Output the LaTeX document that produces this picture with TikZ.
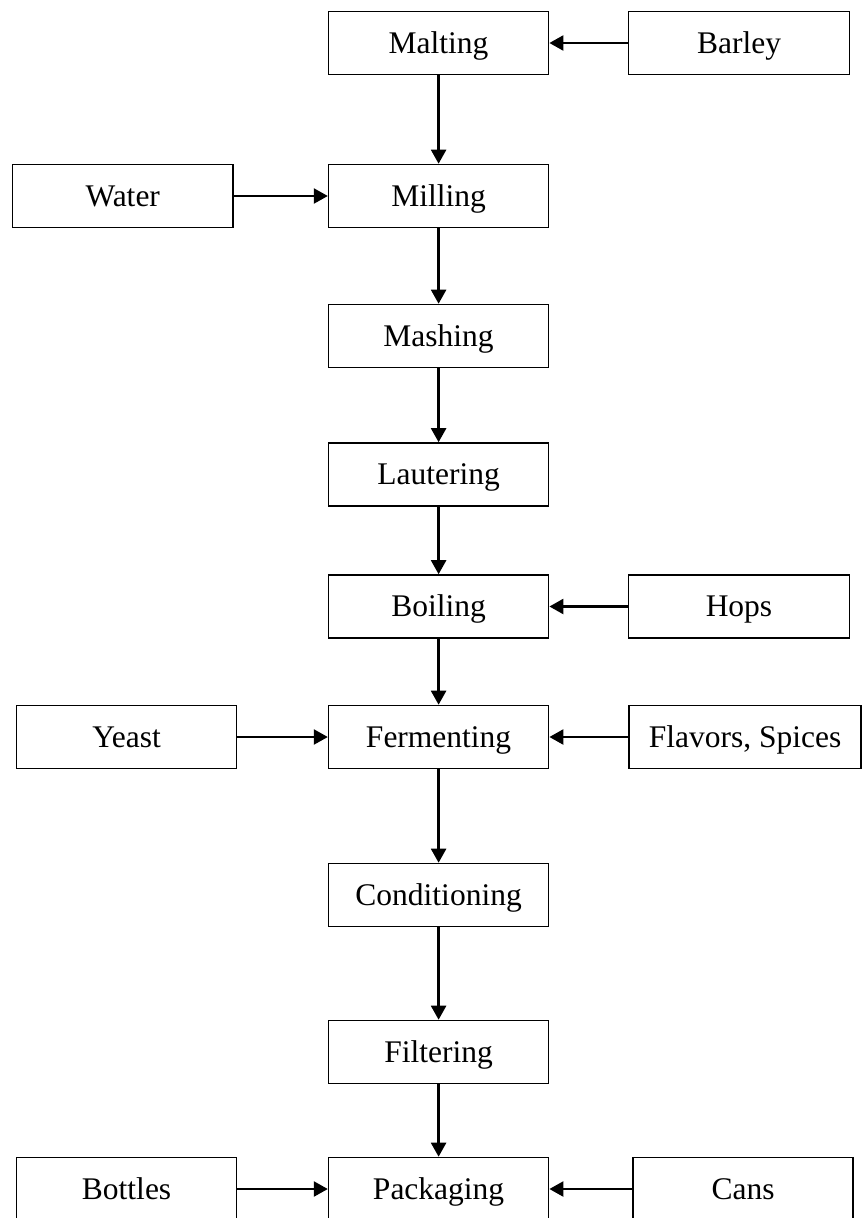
\documentclass[tikz,border=0pt]{standalone}
\usepackage{fontspec}
\setmainfont{Liberation Serif}
\usetikzlibrary{arrows.meta}
\tikzset{
  stage/.style={draw=black, line width=1.6pt, minimum width=220pt, minimum height=63pt, inner sep=0pt, text height=20.9pt, text depth=0pt, font=\fontsize{31.5}{38}\selectfont},
  flow/.style={line width=2.4pt, -{Triangle[length=14pt,width=15pt]}}
}
\begin{document}
\begin{tikzpicture}[x=1pt,y=-1pt]
\useasboundingbox (0,0) rectangle (863,1218);
\fill[white] (0,0) rectangle (863,1218);
\node[stage] (malting) at (438.6,43) {Malting};
\node[stage, minimum width=221pt] (barley) at (739,43) {Barley};
\node[stage, minimum width=220.5pt] (water) at (122.75,196) {Water};
\node[stage] (milling) at (438.6,196) {Milling};
\node[stage] (mashing) at (438.6,336) {Mashing};
\node[stage] (lautering) at (438.6,474.5) {Lautering};
\node[stage] (boiling) at (438.6,606.5) {Boiling};
\node[stage, minimum width=221pt] (hops) at (739,606.5) {Hops};
\node[stage] (yeast) at (126.6,737) {Yeast};
\node[stage] (fermenting) at (438.6,737) {Fermenting};
\node[stage, minimum width=232pt] (flavors) at (745,737) {Flavors, Spices};
\node[stage] (conditioning) at (438.6,895) {Conditioning};
\node[stage] (filtering) at (438.6,1052) {Filtering};
\node[stage] (bottles) at (126.6,1189) {Bottles};
\node[stage] (packaging) at (438.6,1189) {Packaging};
\node[stage] (cans) at (743,1189) {Cans};
\draw[flow] (barley) -- (malting);
\draw[flow] (malting) -- (milling);
\draw[flow] (water) -- (milling);
\draw[flow] (milling) -- (mashing);
\draw[flow] (mashing) -- (lautering);
\draw[flow] (lautering) -- (boiling);
\draw[flow] (hops) -- (boiling);
\draw[flow] (boiling) -- (fermenting);
\draw[flow] (yeast) -- (fermenting);
\draw[flow] (flavors) -- (fermenting);
\draw[flow] (fermenting) -- (conditioning);
\draw[flow] (conditioning) -- (filtering);
\draw[flow] (filtering) -- (packaging);
\draw[flow] (bottles) -- (packaging);
\draw[flow] (cans) -- (packaging);
\end{tikzpicture}
\end{document}
